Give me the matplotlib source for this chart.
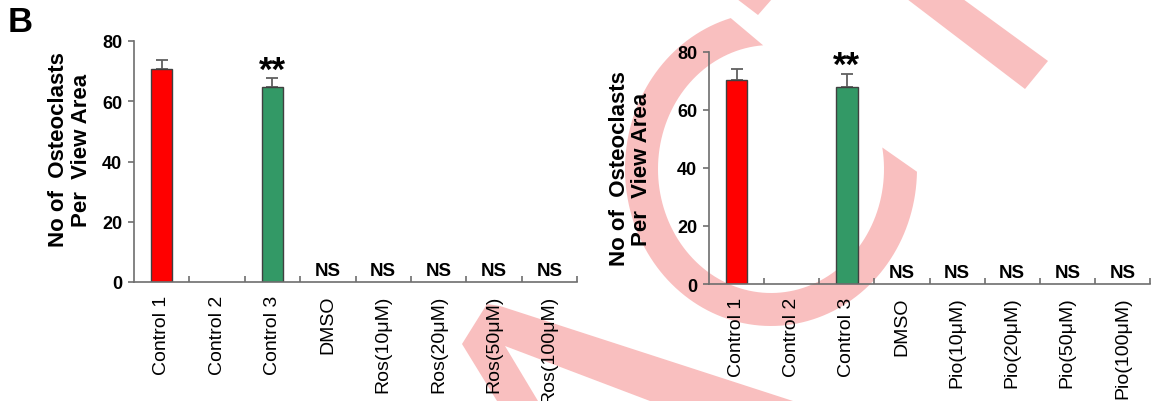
import numpy as np
import matplotlib
matplotlib.use('Agg')
import matplotlib.pyplot as plt
from matplotlib.patches import Polygon

plt.rcParams['font.family'] = ['Liberation Sans', 'DejaVu Sans']

# data
ros_labels = ['Control 1', 'Control 2', 'Control 3', 'DMSO',
              'Ros(10μM)', 'Ros(20μM)', 'Ros(50μM)', 'Ros(100μM)']
pio_labels = ['Control 1', 'Control 2', 'Control 3', 'DMSO',
              'Pio(10μM)', 'Pio(20μM)', 'Pio(50μM)', 'Pio(100μM)']
ros_values = [70.8, 0, 64.7, 0, 0, 0, 0, 0]
ros_err = [2.9, 0, 3.0, 0, 0, 0, 0, 0]
pio_values = [70.2, 0, 68.1, 0, 0, 0, 0, 0]
pio_err = [4.1, 0, 4.4, 0, 0, 0, 0, 0]
marks = ['', '', '**', 'NS', 'NS', 'NS', 'NS', 'NS']
bar_colors = ['#FF0000', '#FFFFFF', '#339966', '#FFFFFF',
              '#FFFFFF', '#FFFFFF', '#FFFFFF', '#FFFFFF']
y_ticks = [0, 20, 40, 60, 80]

W, H = 1152, 402
fig = plt.figure(figsize=(W / 100, H / 100), dpi=100)

# pink watermark in the background (image pixel coords)
bg = fig.add_axes([0, 0, 1, 1])
bg.set_xlim(0, W)
bg.set_ylim(H, 0)
bg.axis('off')
pink = '#F9BFBF'
t_out = np.radians(np.linspace(106, 359, 120))
t_in = np.radians(np.linspace(370, 94, 120))
arc = np.vstack([np.column_stack([771 + 146 * np.cos(t_out), 170 - 157 * np.sin(t_out)]),
                 np.column_stack([771 + 113 * np.cos(t_in), 170 - 124 * np.sin(t_in)])])
bg.add_patch(Polygon(arc, color=pink, lw=0))
bg.add_patch(Polygon([(907, 0), (963, 0), (1048, 62), (1025, 90)], color=pink, lw=0))
bg.add_patch(Polygon([(737, 0), (772, 0), (758, 16)], color=pink, lw=0))
bg.add_patch(Polygon([(462, 345), (487, 305), (500, 307), (793, 402), (650, 402),
                      (505, 347), (538, 402), (497, 402)], color=pink, lw=0))

axis_gray = '#6E6E6E'


def draw_panel(rect, labels, values, errs, label_xy):
    ax = fig.add_axes(rect)
    ax.set_facecolor('none')
    x = np.arange(len(labels))
    keep = [i for i, v in enumerate(values) if v > 0]
    ax.bar(x[keep], [values[i] for i in keep], width=0.39,
           color=[bar_colors[i] for i in keep], edgecolor='#404040', linewidth=1.0,
           zorder=2)
    ax.errorbar(x[keep], [values[i] for i in keep],
                yerr=[[0] * len(keep), [errs[i] for i in keep]],
                fmt='none', ecolor='#606060', elinewidth=1.3, capsize=4, capthick=1.3,
                zorder=1)
    for i, m in enumerate(marks):
        if m == 'NS':
            ax.annotate(m, (x[i], 0), xytext=(0, 2), textcoords='offset points',
                        ha='center', va='bottom', fontsize=13.5, fontweight='bold')
        elif m:
            ax.annotate(m, (x[i], values[i] + errs[i]), xytext=(0, -1),
                        textcoords='offset points', ha='center', va='baseline',
                        fontsize=25, fontweight='bold')
    ax.set_xlim(-0.5, len(labels) - 0.5)
    ax.set_ylim(0, 80)
    ax.set_yticks(y_ticks)
    ax.set_yticklabels([str(t) for t in y_ticks], fontsize=13, fontweight='bold')
    ax.set_xticks(x)
    ax.set_xticklabels(labels, rotation=90, fontsize=14)
    ax.set_xticks(np.arange(0.5, len(labels)), minor=True)
    ax.tick_params(axis='x', which='major', length=0, pad=9)
    ax.tick_params(axis='x', which='minor', direction='in', length=4.5,
                   color=axis_gray, width=1.2)
    ax.tick_params(axis='y', direction='out', length=4.5, color=axis_gray,
                   width=1.2, pad=4)
    for s in ['top', 'right']:
        ax.spines[s].set_visible(False)
    for s in ['left', 'bottom']:
        ax.spines[s].set_color(axis_gray)
        ax.spines[s].set_linewidth(1.2)
    ax.set_ylabel('No of  Osteoclasts\nPer  View Area', fontsize=16,
                  fontweight='bold', linespacing=1.1)
    ax.yaxis.set_label_coords(*label_xy)
    return ax


draw_panel([134 / W, 1 - 283 / H, 443 / W, 241 / H], ros_labels, ros_values, ros_err,
           (-0.095, 0.552))
draw_panel([709 / W, 1 - 285 / H, 441 / W, 232 / H], pio_labels, pio_values, pio_err,
           (-0.129, 0.5))

fig.text(8 / W, 1 - 6 / H, 'B', fontsize=25, fontweight='bold', va='top', ha='left')

fig.savefig('out.png', dpi=100)
